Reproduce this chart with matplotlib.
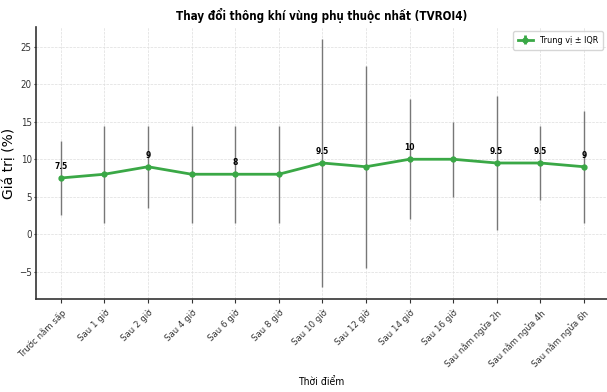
import numpy as np
import matplotlib
matplotlib.use('Agg')
import matplotlib.pyplot as plt

plt.rcParams['font.family'] = ['DejaVu Sans']
plt.rcParams['font.stretch'] = 'condensed'

# thời điểm đo
labels = ['Trước nằm sấp', 'Sau 1 giờ', 'Sau 2 giờ', 'Sau 4 giờ', 'Sau 6 giờ', 'Sau 8 giờ',
          'Sau 10 giờ', 'Sau 12 giờ', 'Sau 14 giờ', 'Sau 16 giờ',
          'Sau nằm ngửa 2h', 'Sau nằm ngửa 4h', 'Sau nằm ngửa 6h']

# trung vị và khoảng IQR (thấp, cao)
median = [7.5, 8, 9, 8, 8, 8, 9.5, 9, 10, 10, 9.5, 9.5, 9]
low = [2.5, 1.5, 3.5, 1.5, 1.5, 1.5, -7, -4.5, 2, 5, 0.5, 4.5, 1.5]
high = [12.5, 14.5, 14.5, 14.5, 14.5, 14.5, 26, 22.5, 18, 15, 18.5, 14.5, 16.5]

# các điểm có ghi giá trị
show_idx = [0, 2, 4, 6, 8, 10, 11, 12]

green = '#3aa846'
x = np.arange(len(labels))
med = np.array(median)
err = [med - np.array(low), np.array(high) - med]

fig = plt.figure(figsize=(6.07, 3.92), dpi=100)
ax = fig.add_axes([36 / 607, 1 - 299 / 392, 1 - 36 / 607, (299 - 27) / 392])

ax.errorbar(x, med, yerr=err, fmt='-o', color=green, ecolor='#777777',
            elinewidth=1.0, capsize=0, lw=2, ms=3.5, zorder=3)
# mục chú giải (màu xanh cho cả thanh lỗi)
ax.errorbar([], [], yerr=[], fmt='-o', color=green, ecolor=green, lw=2, ms=3.5,
            label='Trung vị ± IQR')

for i in show_idx:
    ax.annotate(f'{median[i]:g}', (x[i], med[i]), xytext=(0, 5), textcoords='offset points',
                ha='center', va='bottom', fontsize=6, fontweight='bold')

ax.set_xlim(-0.57, 12.53)
ax.set_ylim(-8.65, 27.65)
ax.set_xticks(x)
ax.set_xticklabels(labels, rotation=45, ha='right', fontsize=6.8, rotation_mode='anchor')
ax.tick_params(axis='y', labelsize=7, length=1.5, pad=1.5)
ax.tick_params(axis='x', length=3)
ax.tick_params(axis='both', colors='#333333')
ax.set_title('Thay đổi thông khí vùng phụ thuộc nhất (TVROI4)', fontsize=8.3,
             fontweight='bold', pad=5)
ax.set_xlabel('Thời điểm', fontsize=7.5, labelpad=6)
ax.set_ylabel('Giá trị (%)', fontsize=10, fontstretch='normal', labelpad=2)
ax.grid(True, ls='--', lw=0.5, color='#dddddd')
ax.spines['top'].set_visible(False)
ax.spines['right'].set_visible(False)
ax.spines['left'].set_color('#333333')
ax.spines['bottom'].set_color('#333333')
ax.spines['left'].set_linewidth(1.2)
ax.spines['bottom'].set_linewidth(1.2)
ax.legend(loc='upper right', fontsize=6.5, frameon=True, borderaxespad=0.45,
          handlelength=1.6, borderpad=0.55)

plt.savefig('out.png', dpi=100)
